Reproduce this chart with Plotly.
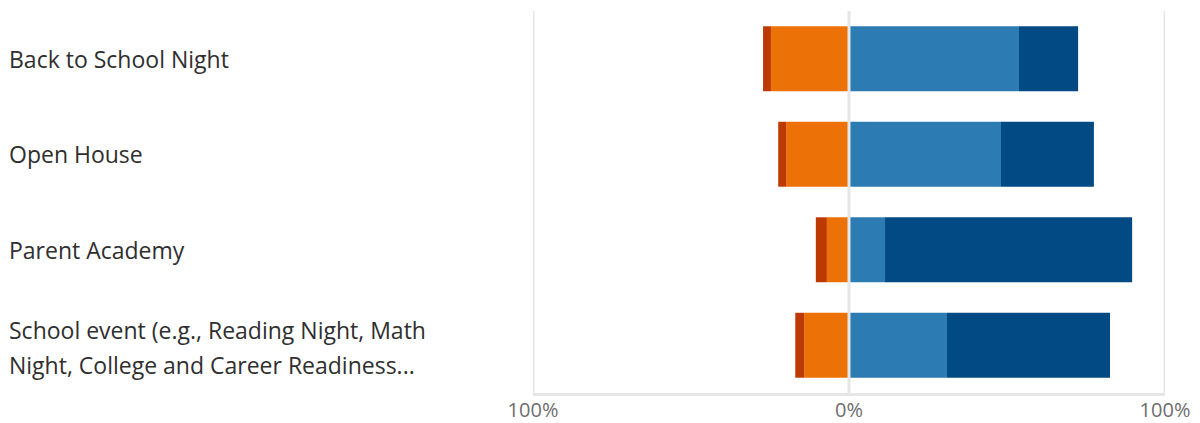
import plotly.graph_objects as go

# Survey items, top to bottom (each label split into its display lines)
label_lines = [
    ["Back to School Night"],
    ["Open House"],
    ["Parent Academy"],
    ["School event (e.g., Reading Night, Math", "Night, College and Career Readiness..."],
]
categories = [" ".join(lines) for lines in label_lines]

# Percent of responses per rating (negatives to the left of zero)
strongly_negative = [2.5, 2.5, 3.5, 2.8]
negative = [24.7, 19.9, 7.0, 14.2]
positive = [53.8, 48.1, 11.4, 31.0]
strongly_positive = [18.7, 29.4, 78.2, 51.6]

tick_values = [-100, 0, 100]
tick_labels = ["100%", "0%", "100%"]

colors = {
    "strongly_negative": "#BC3A02",
    "negative": "#EC7106",
    "positive": "#2C7BB2",
    "strongly_positive": "#024A84",
}

fig = go.Figure()
series = [
    ("negative", [-v for v in negative]),
    ("strongly_negative", [-v for v in strongly_negative]),
    ("positive", positive),
    ("strongly_positive", strongly_positive),
]
for name, vals in series:
    fig.add_trace(go.Bar(
        y=categories, x=vals, orientation="h", name=name,
        marker=dict(color=colors[name], line=dict(width=0)),
        width=0.68, showlegend=False, hoverinfo="skip",
    ))

grid_color = "#E6E6E6"
shapes = []
for tv in tick_values:
    shapes.append(dict(
        type="line", xref="x", yref="paper", x0=tv, x1=tv, y0=0, y1=1,
        line=dict(color=grid_color, width=3),
        layer="above" if tv == 0 else "below",
    ))

LEFT, RIGHT, TOP, BOTTOM = 533, 35, 11, 30
W, H = 1200, 423
plot_w = W - LEFT - RIGHT
label_x = (7 - LEFT) / plot_w

label_font = dict(family="Open Sans, Noto Sans, sans-serif", size=23, color="#2F2F2F")

annotations = []
line_gap = 34.5
for cat, lines in zip(categories, label_lines):
    n = len(lines)
    for i, line in enumerate(lines):
        offset = (i - (n - 1) / 2) * line_gap
        annotations.append(dict(
            xref="paper", yref="y", x=label_x, y=cat, text=line,
            xanchor="left", yanchor="middle", showarrow=False,
            yshift=-offset + (-2 if n > 1 else 0),
            font=label_font, align="left",
        ))

fig.update_layout(
    width=W, height=H,
    margin=dict(l=LEFT, r=RIGHT, t=TOP, b=BOTTOM, autoexpand=False),
    paper_bgcolor="white", plot_bgcolor="white",
    barmode="relative", bargap=0.32,
    shapes=shapes, annotations=annotations,
    xaxis=dict(
        range=[-100, 100], tickvals=tick_values, ticktext=tick_labels,
        showgrid=False, zeroline=False, showline=True, automargin=False,
        linecolor=grid_color, linewidth=3, ticks="",
        ticklabelstandoff=-3,
        tickfont=dict(family="Open Sans, Noto Sans, sans-serif", size=20, color="#6E6E6E"),
        fixedrange=True,
    ),
    yaxis=dict(
        categoryorder="array", categoryarray=categories,
        range=[3.5, -0.5], showticklabels=False, showgrid=False,
        zeroline=False, fixedrange=True, automargin=False,
    ),
)

fig.write_html("out.html", config={"displayModeBar": False})
